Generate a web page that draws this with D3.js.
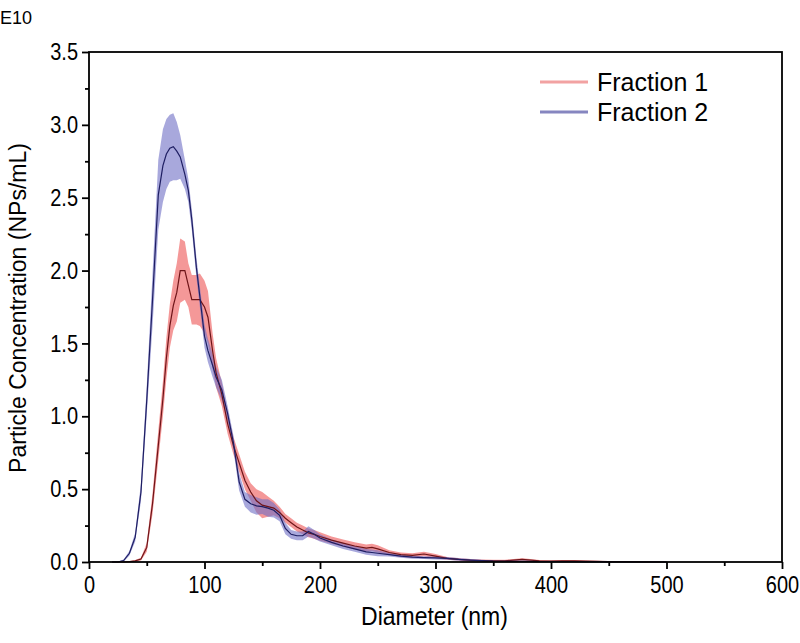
<!DOCTYPE html>
<html>
<head>
<meta charset="utf-8">
<script src="https://cdn.jsdelivr.net/npm/d3@7"></script>
<style>
  body { margin: 0; background: #fff; }
  text { font-family: Arial, 'Liberation Sans', sans-serif; fill: #000; }
</style>
</head>
<body>
<svg width="800" height="643"></svg>
<script>
// diameters (nm) shared by both fractions
const diameter = [20, 25, 30, 35, 40, 45, 50, 55, 60, 64, 67, 70, 73, 76, 79, 83, 86, 89, 93, 96,
  100, 103, 107, 110, 115, 120, 125, 130, 135, 140, 145, 150, 155, 160, 165, 170, 175, 180, 185, 190,
  195, 200, 210, 220, 230, 240, 245, 250, 260, 270, 280, 290, 300, 310, 320, 330, 340, 350, 360, 370,
  375, 380, 390, 400, 410, 420, 430, 440, 450, 460, 480, 500]

// Fraction 1 (red), concentration in units of 1E10 NPs/mL
const frac1Mean = [0, 0, 0, 0.003, 0.008, 0.02, 0.1, 0.4, 0.8, 1.12, 1.4, 1.62, 1.76, 1.85, 2.0, 2.0, 1.9, 1.8, 1.8, 1.8,
  1.75, 1.68, 1.45, 1.3, 1.15, 0.95, 0.8, 0.68, 0.56, 0.48, 0.42, 0.39, 0.38, 0.37, 0.34, 0.3, 0.27, 0.24, 0.22, 0.2,
  0.19, 0.175, 0.15, 0.13, 0.11, 0.095, 0.1, 0.09, 0.065, 0.05, 0.045, 0.055, 0.04, 0.025, 0.018, 0.012, 0.01, 0.008, 0.008, 0.015,
  0.018, 0.015, 0.008, 0.006, 0.008, 0.008, 0.006, 0.004, 0.003, 0.002, 0.001, 0]
const frac1Err = [0, 0, 0, 0.002, 0.005, 0.01, 0.03, 0.07, 0.1, 0.12, 0.14, 0.15, 0.17, 0.2, 0.22, 0.2, 0.15, 0.17, 0.17, 0.18,
  0.18, 0.18, 0.12, 0.1, 0.08, 0.07, 0.06, 0.06, 0.06, 0.06, 0.08, 0.09, 0.07, 0.05, 0.04, 0.03, 0.03, 0.03, 0.03, 0.03,
  0.03, 0.03, 0.025, 0.025, 0.025, 0.025, 0.025, 0.025, 0.015, 0.015, 0.015, 0.015, 0.015, 0.01, 0.008, 0.008, 0.008, 0.008, 0.008, 0.008,
  0.008, 0.008, 0.006, 0.006, 0.006, 0.006, 0.005, 0.004, 0.003, 0.002, 0.001, 0]

// Fraction 2 (blue)
const frac2Mean = [0, 0, 0.01, 0.06, 0.17, 0.48, 1.11, 1.8, 2.52, 2.72, 2.8, 2.84, 2.85, 2.82, 2.78, 2.66, 2.55, 2.35, 2.02, 1.82,
  1.55, 1.45, 1.35, 1.27, 1.18, 1.02, 0.82, 0.55, 0.43, 0.4, 0.385, 0.38, 0.37, 0.355, 0.32, 0.23, 0.19, 0.18, 0.18, 0.21,
  0.19, 0.165, 0.135, 0.11, 0.09, 0.07, 0.065, 0.06, 0.05, 0.04, 0.033, 0.03, 0.028, 0.025, 0.018, 0.013, 0.009, 0.006, 0.005, 0.004,
  0.004, 0.004, 0.003, 0.003, 0.002, 0.002, 0.001, 0.001, 0, 0, 0, 0]
const frac2Err = [0, 0.003, 0.008, 0.015, 0.03, 0.06, 0.1, 0.18, 0.24, 0.25, 0.24, 0.23, 0.23, 0.2, 0.15, 0.1, 0.08, 0.07, 0.07, 0.07,
  0.08, 0.08, 0.08, 0.07, 0.07, 0.05, 0.05, 0.06, 0.05, 0.06, 0.06, 0.05, 0.06, 0.05, 0.04, 0.04, 0.03, 0.03, 0.03, 0.035,
  0.03, 0.025, 0.02, 0.02, 0.02, 0.02, 0.02, 0.02, 0.012, 0.01, 0.01, 0.01, 0.01, 0.01, 0.01, 0.008, 0.006, 0.005, 0.004, 0.004,
  0.004, 0.004, 0.003, 0.003, 0.002, 0.002, 0.001, 0.001, 0, 0, 0, 0]

const xTicks = [0, 100, 200, 300, 400, 500, 600]
const yTicks = [0, 0.5, 1.0, 1.5, 2.0, 2.5, 3.0, 3.5]
const seriesNames = ['Fraction 1', 'Fraction 2']

const svg = d3.select('svg')

const x = d3.scaleLinear().domain([0, 600]).range([89, 782])
const y = d3.scaleLinear().domain([0, 3.5]).range([562, 52])

const series = [
  { name: seriesNames[0], mean: frac1Mean, err: frac1Err, band: 'rgb(237,83,83)', line: '#6e1418', legend: '#f2a2a2' },
  { name: seriesNames[1], mean: frac2Mean, err: frac2Err, band: 'rgb(110,110,197)', line: '#1e1e62', legend: '#8686c0' }
]

const area = d3.area()
  .x(d => x(d.d))
  .y0(d => y(Math.max(0, d.m - d.e)))
  .y1(d => y(d.m + d.e))

const line = d3.line()
  .x(d => x(d.d))
  .y(d => y(d.m))

const rows = s => diameter.map((d, i) => ({ d, m: s.mean[i], e: s.err[i] }))

// bands first, then mean lines on top
svg.append('g').selectAll('path')
  .data(series)
  .enter()
  .append('path')
  .attr('d', s => area(rows(s)))
  .attr('fill', s => s.band)
  .attr('fill-opacity', 0.6)

svg.append('g').selectAll('path')
  .data(series)
  .enter()
  .append('path')
  .attr('d', s => line(rows(s)))
  .attr('fill', 'none')
  .attr('stroke', s => s.line)
  .attr('stroke-width', 1.2)

// frame
svg.append('rect')
  .attr('x', x(0)).attr('y', y(3.5))
  .attr('width', x(600) - x(0)).attr('height', y(0) - y(3.5))
  .attr('fill', 'none').attr('stroke', '#000').attr('stroke-width', 1.8)

// minor ticks
const xMinor = d3.range(50, 600, 100)
const yMinor = d3.range(0.25, 3.5, 0.5)

svg.append('g')
  .attr('transform', `translate(0,${y(0)})`)
  .call(d3.axisBottom(x).tickValues(xMinor).tickSize(4).tickSizeOuter(0).tickFormat(''))
  .call(g => g.select('.domain').remove())

svg.append('g')
  .attr('transform', `translate(${x(0)},0)`)
  .call(d3.axisLeft(y).tickValues(yMinor).tickSize(4).tickSizeOuter(0).tickFormat(''))
  .call(g => g.select('.domain').remove())

// major ticks
const xAxis = svg.append('g')
  .attr('transform', `translate(0,${y(0)})`)
  .call(d3.axisBottom(x).tickValues(xTicks).tickSize(7).tickSizeOuter(0).tickPadding(5))
xAxis.select('.domain').remove()

const yAxis = svg.append('g')
  .attr('transform', `translate(${x(0)},0)`)
  .call(d3.axisLeft(y).tickValues(yTicks).tickSize(7).tickSizeOuter(0).tickPadding(4).tickFormat(d3.format('.1f')))
yAxis.select('.domain').remove()

svg.selectAll('.tick line').attr('stroke', '#000').attr('stroke-width', 1.8)
// the original labels are a bit taller than plain Arial
svg.selectAll('.tick text')
  .style('font-size', '20px')
  .style('font-family', 'Arial, Liberation Sans, sans-serif')
  .attr('transform', 'scale(1,1.2)')

// titles
svg.append('text')
  .attr('transform', `translate(${(x(0) + x(600)) / 2 - 1},625) scale(1,1.1)`)
  .attr('text-anchor', 'middle')
  .style('font-size', '23px')
  .text('Diameter (nm)')

svg.append('text')
  .attr('transform', `translate(26,${(y(0) + y(3.5)) / 2 + 1}) rotate(-90)`)
  .attr('text-anchor', 'middle')
  .style('font-size', '23px')
  .text('Particle Concentration (NPs/mL)')

svg.append('text')
  .attr('x', 0)
  .attr('y', 24)
  .style('font-size', '18px')
  .text('E10')

// legend
const legend = svg.append('g')
  .selectAll('g')
  .data(series)
  .enter()
  .append('g')
  .attr('transform', (s, i) => `translate(540,${82 + i * 30})`)

legend.append('line')
  .attr('x1', 0).attr('x2', 48)
  .attr('stroke', s => s.legend)
  .attr('stroke-width', 3)

legend.append('text')
  .attr('x', 57)
  .attr('dy', '0.36em')
  .style('font-size', '25px')
  .text(s => s.name)
</script>
</body>
</html>
